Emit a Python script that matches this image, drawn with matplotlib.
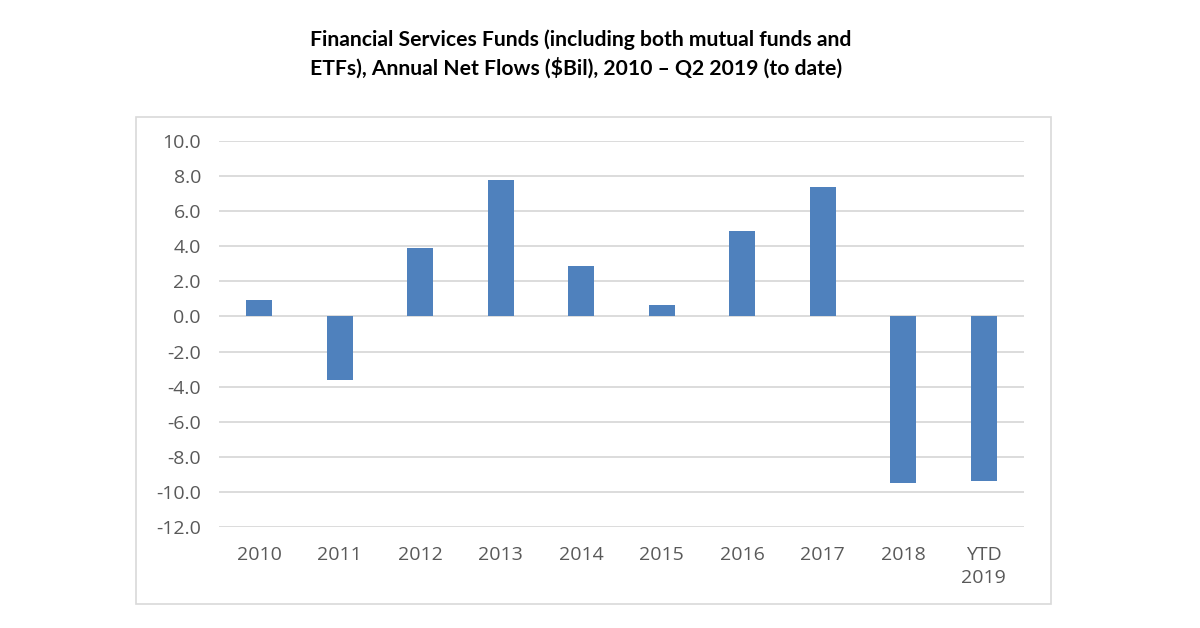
import matplotlib.pyplot as plt
from matplotlib.patches import Rectangle
import numpy as np

categories = ["2010", "2011", "2012", "2013", "2014", "2015", "2016", "2017", "2018", "YTD\n2019"]
net_flows = [0.95, -3.6, 3.9, 7.8, 2.9, 0.65, 4.85, 7.4, -9.5, -9.4]
yticks = np.arange(-12, 10.1, 2)

plt.rcParams["font.family"] = ["Open Sans", "DejaVu Sans"]

fig = plt.figure(figsize=(12, 6.28), dpi=100)
fig.patch.set_facecolor("white")

# chart frame
fig.add_artist(Rectangle((136 / 1200, 1 - 604 / 628), (1051 - 136) / 1200, (604 - 117) / 628,
                         transform=fig.transFigure, fill=False, edgecolor="#d9d9d9", lw=1.2))

ax = fig.add_axes([219 / 1200, 1 - 527 / 628, (1024 - 219) / 1200, (527 - 141) / 628])
x = np.arange(len(categories))
ax.bar(x, net_flows, width=0.32, color="#4f81bd", zorder=3)

ax.set_xlim(-0.5, len(categories) - 0.5)
ax.set_ylim(-12, 10)
ax.set_yticks(yticks)
ax.set_yticklabels([f"{v:.1f}" for v in yticks])
ax.set_xticks(x)
ax.set_xticklabels(categories, linespacing=1.3)
ax.yaxis.grid(True, color="#d9d9d9", lw=1.3)
ax.set_axisbelow(True)
for s in ax.spines.values():
    s.set_visible(False)
ax.tick_params(axis="both", length=0, labelsize=14, labelcolor="#595959")
ax.tick_params(axis="y", pad=13)
ax.tick_params(axis="x", pad=14)

# title, two lines left aligned
fig.text(310 / 1200, 1 - 54 / 628,
         "Financial Services Funds (including both mutual funds and\nETFs), Annual Net Flows ($Bil), 2010 \u2013 Q2 2019 (to date)",
         ha="left", va="center", fontsize=15.2, fontweight="bold", color="black",
         linespacing=1.4, family=["Lato", "DejaVu Sans"])

fig.savefig("out.png", dpi=100, facecolor="white")
